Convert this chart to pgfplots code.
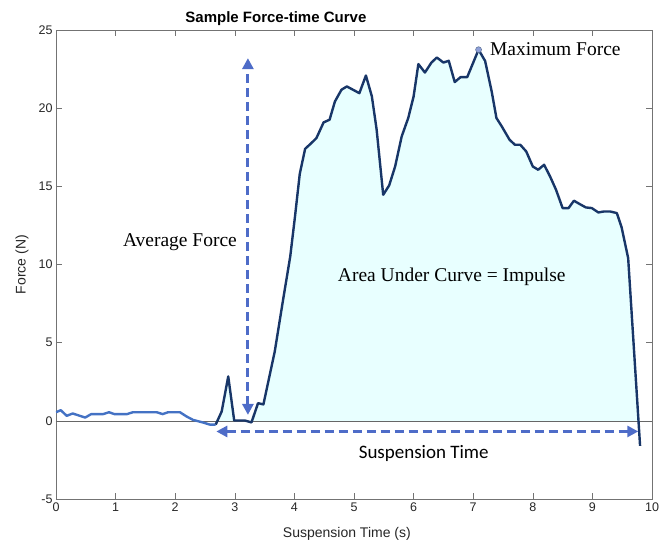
\documentclass[border=0pt]{standalone}
\usepackage{fontspec}
\setmainfont{Liberation Sans}
\newfontfamily\serifann{Liberation Serif}
\newfontfamily\calib{Carlito}
\usepackage{pgfplots}
\usepackage{pgfplotstable}
\pgfplotsset{compat=1.18}
\usetikzlibrary{arrows.meta}
\definecolor{pre}{RGB}{68,114,196}
\definecolor{navy}{RGB}{24,54,104}
\definecolor{fillc}{RGB}{232,255,255}
\definecolor{arr}{RGB}{78,108,200}
\definecolor{axgray}{RGB}{38,38,38}
\definecolor{mk}{RGB}{143,160,216}

\pgfplotstableread{
x y
0 0.55
0.08 0.68
0.18 0.32
0.28 0.47
0.49 0.21
0.59 0.43
0.79 0.43
0.89 0.55
0.98 0.43
1.19 0.43
1.29 0.55
1.69 0.55
1.79 0.43
1.88 0.55
2.08 0.55
2.19 0.28
2.30 0.06
2.47 -0.11
2.58 -0.24
2.68 -0.24
}\predata

\pgfplotstableread{
x y
2.68 -0.24
2.78 0.6
2.89 2.84
2.99 0.02
3.17 0.02
3.28 -0.10
3.39 1.13
3.48 1.05
3.67 4.43
3.81 7.74
3.93 10.51
4.01 13.07
4.09 15.8
4.18 17.4
4.28 17.75
4.37 18.09
4.49 19.09
4.59 19.26
4.68 20.43
4.79 21.18
4.88 21.39
5.09 20.96
5.20 22.09
5.30 20.75
5.38 18.62
5.49 14.46
5.59 15.06
5.69 16.27
5.80 18.19
5.91 19.37
6.00 20.75
6.08 22.82
6.19 22.28
6.30 22.92
6.39 23.24
6.50 22.92
6.59 23.03
6.69 21.67
6.79 21.99
6.90 21.99
7.09 23.74
7.20 23.02
7.31 21.07
7.39 19.37
7.48 18.83
7.61 17.98
7.70 17.66
7.79 17.66
7.89 17.23
8.00 16.27
8.09 16.06
8.19 16.38
8.29 15.63
8.39 14.78
8.50 13.61
8.60 13.61
8.69 14.08
8.79 13.86
8.89 13.65
8.99 13.61
9.10 13.33
9.19 13.39
9.30 13.39
9.41 13.29
9.49 12.38
9.60 10.41
9.80 -1.6
}\maindata

\pgfplotstableread{
x y
2.68 0
2.78 0.6
2.89 2.84
2.99 0.02
3.17 0.02
3.28 0
3.39 1.13
3.48 1.05
3.67 4.43
3.81 7.74
3.93 10.51
4.01 13.07
4.09 15.8
4.18 17.4
4.28 17.75
4.37 18.09
4.49 19.09
4.59 19.26
4.68 20.43
4.79 21.18
4.88 21.39
5.09 20.96
5.20 22.09
5.30 20.75
5.38 18.62
5.49 14.46
5.59 15.06
5.69 16.27
5.80 18.19
5.91 19.37
6.00 20.75
6.08 22.82
6.19 22.28
6.30 22.92
6.39 23.24
6.50 22.92
6.59 23.03
6.69 21.67
6.79 21.99
6.90 21.99
7.09 23.74
7.20 23.02
7.31 21.07
7.39 19.37
7.48 18.83
7.61 17.98
7.70 17.66
7.79 17.66
7.89 17.23
8.00 16.27
8.09 16.06
8.19 16.38
8.29 15.63
8.39 14.78
8.50 13.61
8.60 13.61
8.69 14.08
8.79 13.86
8.89 13.65
8.99 13.61
9.10 13.33
9.19 13.39
9.30 13.39
9.41 13.29
9.49 12.38
9.60 10.41
9.773 0
}\filldata

\begin{document}
\begin{tikzpicture}
\begin{axis}[
  scale only axis,
  width=596pt, height=469pt,
  xmin=0, xmax=10, ymin=-5, ymax=25,
  xtick={0,1,...,10},
  ytick={-5,0,5,10,15,20,25},
  tick align=inside,
  major tick length=6pt,
  axis line style={draw=black!55, line width=0.6pt},
  tick style={draw=black!55, line width=0.6pt},
  ticklabel style={font=\fontsize{12.5}{14}\selectfont, text=axgray},
  /pgf/number format/assume math mode=true,
  xlabel={Suspension Time (s)},
  ylabel={Force (N)},
  xlabel style={at={(axis description cs:0.488,-0.074)}, anchor=center, font=\fontsize{14}{16}\selectfont, text=axgray},
  ylabel style={at={(axis description cs:-0.057,0.5)}, anchor=center, font=\fontsize{14}{16}\selectfont, text=axgray},
  title={Sample Force-time Curve},
  title style={at={(axis description cs:0.369,1)}, anchor=center, yshift=5pt, font=\bfseries\fontsize{15}{17}\selectfont},
]
\addplot[fill=fillc, draw=none, forget plot] table[x=x,y=y] {\filldata} -- cycle;
\addplot[black!60, line width=0.5pt, forget plot] coordinates {(0,0) (10,0)};
\addplot[pre, line width=2.4pt, line join=round, forget plot] table[x=x,y=y] {\predata};
\addplot[navy, line width=2.4pt, line join=round, forget plot] table[x=x,y=y] {\maindata};
\addplot[only marks, mark=*, mark size=3pt, mark options={fill=mk, draw=navy!70, line width=0.5pt}, forget plot] coordinates {(7.09,23.74)};
\draw[arr, line width=3pt, dash pattern=on 9pt off 5pt, {Triangle[length=11pt,width=11pt]}-{Triangle[length=11pt,width=11pt]}] (axis cs:3.22,0.38) -- (axis cs:3.22,23.2);
\draw[arr, line width=3pt, dash pattern=on 9pt off 5pt, {Triangle[length=11pt,width=11pt]}-{Triangle[length=11pt,width=11pt]}] (axis cs:2.69,-0.68) -- (axis cs:9.77,-0.68);
\node[font=\serifann\fontsize{19.5}{22}\selectfont] at (axis cs:2.08,11.45) {Average Force};
\node[font=\serifann\fontsize{19.5}{22}\selectfont] at (axis cs:6.64,9.21) {Area Under Curve = Impulse};
\node[font=\calib\fontsize{19}{22}\selectfont] at (axis cs:6.17,-2.1) {Suspension Time};
\node[font=\serifann\fontsize{19.5}{22}\selectfont, anchor=west, inner sep=0pt] at (axis cs:7.28,23.8) {Maximum Force};
\end{axis}
\path (-56pt,-42pt) rectangle (614pt,499pt);
\end{tikzpicture}
\end{document}
